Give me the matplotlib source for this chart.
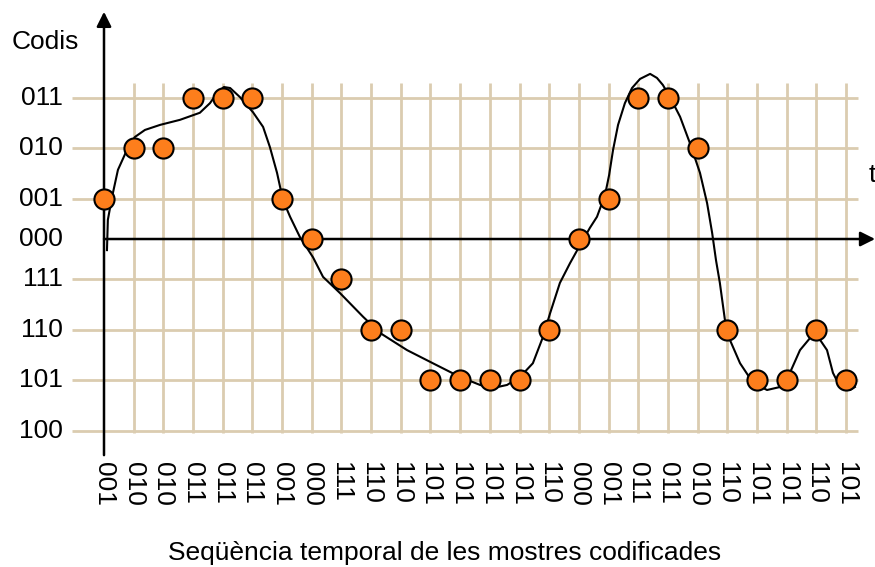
import numpy as np
import matplotlib
matplotlib.use("Agg")
import matplotlib.pyplot as plt

plt.rcParams['font.family'] = ['Liberation Sans', 'DejaVu Sans']

# quantisation levels (code -> level height)
level_codes = ['011', '010', '001', '000', '111', '110', '101', '100']
level_values = [2.8, 1.8, 0.8, 0.0, -0.8, -1.8, -2.8, -3.8]
level_of = dict(zip(level_codes, level_values))

# coded samples, one per time step
sample_codes = ['001', '010', '010', '011', '011', '011', '001', '000', '111',
                '110', '110', '101', '101', '101', '101', '110', '000', '001',
                '011', '011', '010', '110', '101', '101', '110', '101']

# analog signal (time in sample steps, amplitude in level units)
signal_t = [0.10, 0.13, 0.27, 0.47, 0.77, 1.04, 1.38, 1.89, 2.56, 3.23, 3.57,
            3.84, 4.04, 4.25, 4.58, 5.02, 5.36, 5.59, 5.83, 6.03, 6.27, 6.60,
            7.04, 7.38, 7.95, 8.73, 9.30, 10.21, 11.08, 11.99, 12.67, 13.11,
            13.58, 14.02, 14.45, 14.79, 15.03, 15.36, 15.70, 16.04, 16.37,
            16.61, 16.88, 17.02, 17.15, 17.32, 17.55, 17.79, 18.06, 18.40,
            18.63, 18.83, 19.07, 19.41, 19.74, 20.08, 20.32, 20.49, 20.62,
            20.75, 20.92, 21.09, 21.43, 21.87, 22.34, 22.78, 23.11, 23.45,
            23.79, 24.06, 24.36, 24.56, 24.80, 25.13, 25.30]
signal_v = [-0.22, 0.38, 0.83, 1.37, 1.76, 2.02, 2.16, 2.26, 2.36, 2.50, 2.69,
            2.91, 3.01, 2.99, 2.81, 2.51, 2.22, 1.82, 1.31, 0.77, 0.44, 0.04,
            -0.36, -0.75, -1.07, -1.54, -1.86, -2.20, -2.46, -2.73, -2.89,
            -2.95, -2.89, -2.73, -2.46, -1.94, -1.47, -0.87, -0.48, -0.12,
            0.22, 0.44, 0.87, 1.27, 1.76, 2.26, 2.69, 2.99, 3.17, 3.27, 3.19,
            3.05, 2.81, 2.42, 1.90, 1.31, 0.71, 0.12, -0.42, -0.87, -1.60,
            -2.00, -2.46, -2.85, -2.99, -2.93, -2.65, -2.20, -1.96, -1.94,
            -2.20, -2.65, -2.93, -2.99, -2.93]

fig = plt.figure(figsize=(8.75, 5.67), dpi=100)
ax = fig.add_axes([0, 0, 1, 1])
ax.set_xlim(-3.504, 25.977)
ax.set_ylim(-6.495, 4.733)
ax.axis('off')

t = np.arange(len(sample_codes))
grid_col = '#dbccb0'
fs = 19

# grid: one vertical line per sample, one horizontal line per level
for x in t[1:]:
    ax.plot([x, x], [3.09, -3.84], color=grid_col, lw=2.0, zorder=1,
            solid_capstyle='butt')
for code, y in zip(level_codes, level_values):
    if code != '000':
        ax.plot([-1.08, 25.4], [y, y], color=grid_col, lw=2.0, zorder=1,
                solid_capstyle='butt')
    ax.text(-1.38, y, code, ha='right', va='center', fontsize=fs)

# axes with arrow heads
ax.annotate('', xy=(0, 4.50), xytext=(0, -4.28),
            arrowprops=dict(arrowstyle='-|>', mutation_scale=22, lw=1.8,
                            color='black', shrinkA=0, shrinkB=0), zorder=3)
ax.annotate('', xy=(25.98, 0), xytext=(0, 0),
            arrowprops=dict(arrowstyle='-|>', mutation_scale=22, lw=1.8,
                            color='black', shrinkA=0, shrinkB=0), zorder=3)

# analog signal and the coded samples
ax.plot(signal_t, signal_v, color='black', lw=1.5, zorder=4)
sample_y = [level_of[c] for c in sample_codes]
ax.plot(t, sample_y, 'o', ms=14.5, mfc='#fd7e1c', mec='black', mew=1.5,
        zorder=5)

for x, code in zip(t, sample_codes):
    ax.text(x, -4.42, code, rotation=-90, ha='center', va='top', fontsize=fs)

ax.text(-3.10, 3.90, 'Codis', ha='left', va='center', fontsize=fs)
ax.text(25.88, 1.27, 't', ha='center', va='center', fontsize=fs)
ax.text(11.49, -6.22, 'Seqüència temporal de les mostres codificades',
        ha='center', va='center', fontsize=fs)

fig.savefig('out.png', dpi=100)
